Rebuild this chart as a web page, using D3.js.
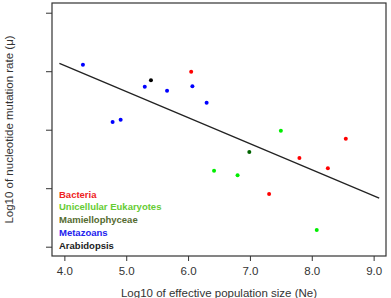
<!DOCTYPE html>
<html>
<head>
<meta charset="utf-8">
<script src="https://cdn.jsdelivr.net/npm/d3@7"></script>
<style>
  body { margin: 0; background: #fff; }
  text { font-family: "Liberation Sans", Arial, sans-serif; }
</style>
</head>
<body>
<svg id="chart"></svg>
<script>
const groups = ["Bacteria", "Unicellular Eukaryotes", "Mamiellophyceae", "Metazoans", "Arabidopsis"];
const groupColors = ["#ff0000", "#00ee00", "#006400", "#0000ff", "#000000"];
const legendColors = ["#ee2222", "#66cc33", "#556b2f", "#2222ee", "#222222"];

// log10 Ne, log10 mu, group index
const neValues = [4.30, 5.30, 5.66, 4.78, 4.91, 6.07, 6.30, 5.40, 6.05, 8.55, 7.80, 8.26, 7.31, 6.99, 7.50, 6.42, 6.80, 8.08];
const muValues = [-7.89, -8.265, -8.333, -8.868, -8.829, -8.258, -8.538, -8.156, -8.009, -9.154, -9.484, -9.660, -10.099, -9.381, -9.017, -9.701, -9.779, -10.715];
const groupIdx = [3, 3, 3, 3, 3, 3, 3, 4, 0, 0, 0, 0, 0, 2, 1, 1, 1, 1];

const fitX = [3.92, 9.09];
const fitY = [-7.865, -10.168];

const xTicks = [4, 5, 6, 7, 8, 9];
const yTicks = [-11, -10, -9, -8, -7];

const width = 391, height = 298;
const margin = { top: 3, right: 5, bottom: 42, left: 52 };

const svg = d3.select("#chart")
    .attr("width", width)
    .attr("height", height);

const x = d3.scaleLinear()
    .domain([3.8, 9.2])
    .range([margin.left, width - margin.right]);

const y = d3.scaleLinear()
    .domain([-6.834, -11.159])
    .range([margin.top, height - margin.bottom]);

// x axis
const xAxis = svg.append("g")
    .attr("transform", `translate(0,${height - margin.bottom})`)
    .call(d3.axisBottom(x).tickValues(xTicks).tickFormat(d3.format(".1f")).tickSize(5).tickPadding(6));
xAxis.select(".domain").remove();
xAxis.selectAll("line").attr("stroke", "#333");
xAxis.selectAll("text").attr("font-size", 11.5).attr("fill", "#333")
    .attr("font-family", "'Liberation Sans', Arial, sans-serif");

// y axis (no labels)
const yAxis = svg.append("g")
    .attr("transform", `translate(${margin.left},0)`)
    .call(d3.axisLeft(y).tickValues(yTicks).tickFormat("").tickSize(6));
yAxis.select(".domain").remove();
yAxis.selectAll("line").attr("stroke", "#333");

// frame
svg.append("rect")
    .attr("x", margin.left)
    .attr("y", margin.top)
    .attr("width", width - margin.left - margin.right)
    .attr("height", height - margin.top - margin.bottom)
    .attr("fill", "none")
    .attr("stroke", "#333")
    .attr("stroke-width", 1.2);

// regression line
svg.append("line")
    .attr("x1", x(fitX[0])).attr("y1", y(fitY[0]))
    .attr("x2", x(fitX[1])).attr("y2", y(fitY[1]))
    .attr("stroke", "#222")
    .attr("stroke-width", 1.3);

// points
svg.selectAll("circle.pt")
    .data(neValues)
  .enter().append("circle")
    .attr("class", "pt")
    .attr("cx", d => x(d))
    .attr("cy", (d, i) => y(muValues[i]))
    .attr("r", 2)
    .attr("fill", (d, i) => groupColors[groupIdx[i]]);

// legend
svg.append("g")
    .selectAll("text")
    .data(groups)
  .enter().append("text")
    .attr("x", 59)
    .attr("y", (d, i) => 197.5 + i * 12.8)
    .attr("font-size", 9.5)
    .attr("font-weight", "bold")
    .attr("fill", (d, i) => legendColors[i])
    .text(d => d);

// axis titles
svg.append("text")
    .attr("x", (margin.left + width - margin.right) / 2)
    .attr("y", 297)
    .attr("text-anchor", "middle")
    .attr("font-size", 11.5)
    .attr("fill", "#333")
    .text("Log10 of effective population size (Ne)");

svg.append("text")
    .attr("transform", `translate(13,${(margin.top + height - margin.bottom) / 2}) rotate(-90)`)
    .attr("text-anchor", "middle")
    .attr("font-size", 11.5)
    .attr("fill", "#333")
    .text("Log10 of nucleotide mutation rate (μ)");
</script>
</body>
</html>
